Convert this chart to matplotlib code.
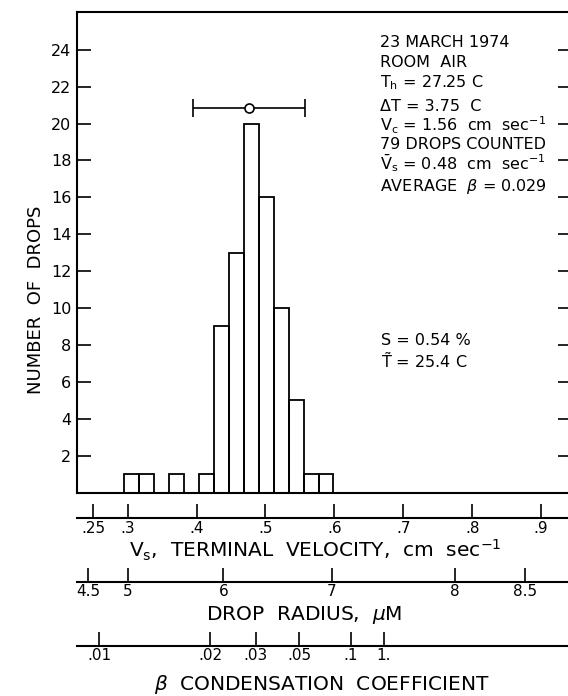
import matplotlib
matplotlib.use("Agg")
import matplotlib.pyplot as plt

# histogram of drop terminal velocities (cm/sec)
bin_lefts = [0.295, 0.317, 0.338, 0.360, 0.382, 0.404, 0.425,
             0.447, 0.469, 0.490, 0.512, 0.534, 0.556, 0.577]
bin_width = 0.0217
counts = [1, 1, 0, 1, 0, 1, 9, 13, 20, 16, 10, 5, 1, 1]

# mean velocity with its spread (the marker above the bars)
mean_v = 0.476
mean_y = 20.85
spread_v = 0.081

y_ticks = [2, 4, 6, 8, 10, 12, 14, 16, 18, 20, 22, 24]

# lower scales: tick label and where it sits on the velocity scale
vel_ticks = [0.25, 0.3, 0.4, 0.5, 0.6, 0.7, 0.8, 0.9]
vel_labels = ['.25', '.3', '.4', '.5', '.6', '.7', '.8', '.9']
rad_pos = [0.2428, 0.300, 0.4388, 0.5961, 0.7746, 0.8772]
rad_labels = ['4.5', '5', '6', '7', '8', '8.5']
beta_pos = [0.2588, 0.4194, 0.4862, 0.5491, 0.6237, 0.672]
beta_labels = ['.01', '.02', '.03', '.05', '.1', '1.']

info_lines = ["23 MARCH 1974",
              "ROOM  AIR",
              r"T$_\mathrm{h}$ = 27.25 C",
              "ΔT = 3.75  C",
              r"V$_\mathrm{c}$ = 1.56  cm  sec$^{-1}$",
              "79 DROPS COUNTED",
              r"$\bar{\mathrm{V}}_\mathrm{s}$ = 0.48  cm  sec$^{-1}$",
              r"AVERAGE  $\beta$ = 0.029"]
info_base = [47, 67, 87, 111, 131, 149, 169, 191]  # baselines, px from top

W, H = 568, 696


def fy(px):
    return 1 - px / H


def fx(px):
    return px / W


plt.rcParams['font.family'] = 'DejaVu Sans'
fig = plt.figure(figsize=(W / 100, H / 100), dpi=100)

left = fx(77)
width = fx(572) - left
xlim = (0.2264, 0.9449)

ax = fig.add_axes([left, fy(492.5), width, fy(12) - fy(492.5)])
ax.bar(bin_lefts, counts, width=bin_width, align='edge', fill=False,
       edgecolor='black', linewidth=1.3)
ax.errorbar([mean_v], [mean_y], xerr=[[spread_v], [spread_v]], fmt='o',
            color='black', mfc='white', mec='black', ms=6.5, mew=1.2,
            capsize=6.5, capthick=1.2, elinewidth=1.2)
ax.set_xlim(*xlim)
ax.set_ylim(0, 26.05)
ax.set_xticks([])
ax.set_yticks(y_ticks)
ax.tick_params(axis='y', direction='in', length=10, width=1.2, pad=4,
               labelsize=11.5, left=True, right=True)
ax.spines['right'].set_visible(False)
for s in ['left', 'top', 'bottom']:
    ax.spines[s].set_linewidth(1.5)

fig.text(fx(36), fy(300), "NUMBER  OF  DROPS", fontsize=13, rotation=90,
         ha='center', va='center')

for i, line in enumerate(info_lines):
    fig.text(fx(380), fy(info_base[i]), line, fontsize=11.5, va='baseline')

fig.text(fx(381), fy(345), "S = 0.54 %", fontsize=11.5, va='baseline')
fig.text(fx(381), fy(368), r"$\tilde{\mathrm{T}}$ = 25.4 C", fontsize=11.5,
         va='baseline')


def scale_axis(y_px, pos, labels):
    sub = fig.add_axes([left, fy(y_px), width, 0.001])
    sub.set_xlim(*xlim)
    sub.patch.set_visible(False)
    for s in ['left', 'right', 'top']:
        sub.spines[s].set_visible(False)
    sub.spines['bottom'].set_linewidth(1.5)
    sub.set_yticks([])
    sub.set_xticks(pos)
    sub.set_xticklabels(labels)
    sub.tick_params(axis='x', direction='in', length=10, width=1.2, pad=2,
                    labelsize=11)
    return sub


scale_axis(518.3, vel_ticks, vel_labels)
scale_axis(581.7, rad_pos, rad_labels)
scale_axis(645.7, beta_pos, beta_labels)

fig.text(fx(315), fy(550), r"V$_\mathrm{s}$,  TERMINAL  VELOCITY,  cm  sec$^{-1}$",
         fontsize=14.5, ha='center', va='center')
fig.text(fx(304), fy(615), r"DROP  RADIUS,  $\mu$M", fontsize=14.5,
         ha='center', va='center')
fig.text(fx(322), fy(685), r"$\beta$  CONDENSATION  COEFFICIENT", fontsize=14.5,
         ha='center', va='center')

fig.savefig("out.png", dpi=100)
